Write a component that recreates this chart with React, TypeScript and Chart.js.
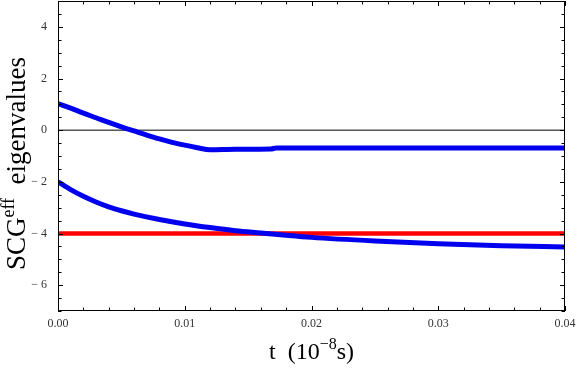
import { useEffect, useRef } from "react";
import { Chart, registerables } from "chart.js";

Chart.register(...registerables);

// time axis (units of 1e-8 s)
const tUpper = [0, 0.001, 0.002, 0.003, 0.004, 0.005, 0.006, 0.007, 0.008, 0.009, 0.010, 0.011, 0.012, 0.014, 0.0168, 0.0172, 0.020, 0.025, 0.030, 0.035, 0.040];
const upperEigen = [1.03, 0.85, 0.66, 0.48, 0.30, 0.13, -0.03, -0.19, -0.34, -0.47, -0.58, -0.68, -0.76, -0.74, -0.73, -0.69, -0.69, -0.69, -0.69, -0.69, -0.69];

const tLower = [0, 0.001, 0.002, 0.003, 0.004, 0.005, 0.006, 0.008, 0.010, 0.012, 0.014, 0.016, 0.018, 0.020, 0.025, 0.030, 0.035, 0.040];
const lowerEigen = [-2.0, -2.30, -2.56, -2.78, -2.97, -3.12, -3.25, -3.46, -3.63, -3.77, -3.89, -3.98, -4.07, -4.15, -4.29, -4.40, -4.47, -4.52];

const tFlat = [0, 0.04];
const redEigen = [-4.0, -4.0];
const zeroLine = [0, 0];

const xTickValues = [0, 0.01, 0.02, 0.03, 0.04];
const xTickLabels = ["0.00", "0.01", "0.02", "0.03", "0.04"];
const yTickValues = [-6, -4, -2, 0, 2, 4];
const yTickLabels = ["\u2212 6", "\u2212 4", "\u2212 2", "0", "2", "4"];

const X_MIN = 0, X_MAX = 0.04, Y_MIN = -7, Y_MAX = 5;
const X_MINOR_STEP = 0.002, Y_MINOR_STEP = 0.5;

const SERIF = "'Liberation Serif', 'DejaVu Serif', serif";

const pairs = (xs: number[], ys: number[]) => xs.map((x, i) => ({ x, y: ys[i] }));

const framePlugin = {
  id: "frameTicks",
  afterDraw(chart: any) {
    const { ctx, chartArea, scales } = chart;
    const { left, right, top, bottom } = chartArea;
    const xs = scales.x, ys = scales.y;
    ctx.save();
    ctx.strokeStyle = "#000";
    ctx.lineWidth = 1;
    // frame
    ctx.strokeRect(Math.round(left) + 0.5, Math.round(top) + 0.5, Math.round(right - left) - 1, Math.round(bottom - top) - 1);
    ctx.beginPath();
    const nx = Math.round((X_MAX - X_MIN) / X_MINOR_STEP);
    for (let i = 0; i <= nx; i++) {
      const v = X_MIN + i * X_MINOR_STEP;
      const major = i % 5 === 0;
      const len = major ? 5 : 3.5;
      const px = Math.round(xs.getPixelForValue(v)) + 0.5;
      ctx.moveTo(px, bottom);
      ctx.lineTo(px, bottom - len);
      ctx.moveTo(px, top);
      ctx.lineTo(px, top + len);
    }
    const ny = Math.round((Y_MAX - Y_MIN) / Y_MINOR_STEP);
    for (let i = 0; i <= ny; i++) {
      const v = Y_MIN + i * Y_MINOR_STEP;
      const major = Math.abs(v % 2) < 1e-9;
      const len = major ? 5 : 3.5;
      const py = Math.round(ys.getPixelForValue(v)) + 0.5;
      ctx.moveTo(left, py);
      ctx.lineTo(left + len, py);
      ctx.moveTo(right, py);
      ctx.lineTo(right - len, py);
    }
    ctx.stroke();

    // x axis title: t (10^-8 s)
    ctx.fillStyle = "#000";
    ctx.textBaseline = "alphabetic";
    ctx.textAlign = "left";
    const big = `24px ${SERIF}`;
    const small = `16px ${SERIF}`;
    const parts: [string, string, number][] = [
      ["t  (10", big, 0],
      ["\u22128", small, -10],
      ["s)", big, 0],
    ];
    let total = 0;
    for (const [s, f] of parts) { ctx.font = f; total += ctx.measureText(s).width; }
    let cx = (left + right) / 2 - total / 2;
    const baseY = 359;
    for (const [s, f, dy] of parts) {
      ctx.font = f;
      ctx.fillText(s, cx, baseY + dy);
      cx += ctx.measureText(s).width;
    }

    // y axis title: SCG^eff eigenvalues
    const yParts: [string, string, number][] = [
      ["SCG", `27px ${SERIF}`, 0],
      ["eff", `18px ${SERIF}`, -11],
      ["  eigenvalues", `27px ${SERIF}`, 0],
    ];
    let ytot = 0;
    for (const [s, f] of yParts) { ctx.font = f; ytot += ctx.measureText(s).width; }
    ctx.translate(25, 163.5);
    ctx.rotate(-Math.PI / 2);
    let tx = -ytot / 2;
    for (const [s, f, dy] of yParts) {
      ctx.font = f;
      ctx.fillText(s, tx, dy);
      tx += ctx.measureText(s).width;
    }
    ctx.restore();
  },
};

export default function App() {
  const ref = useRef<HTMLCanvasElement | null>(null);
  useEffect(() => {
    if (!ref.current) return;
    const chart = new Chart(ref.current, {
      type: "line",
      data: {
        datasets: [
          { label: "upper", data: pairs(tUpper, upperEigen), borderColor: "#0000ee", borderWidth: 5, pointRadius: 0, cubicInterpolationMode: "monotone", clip: 0, order: 0 } as any,
          { label: "lower", data: pairs(tLower, lowerEigen), borderColor: "#0000ee", borderWidth: 5, pointRadius: 0, cubicInterpolationMode: "monotone", clip: 0, order: 0 } as any,
          { label: "red", data: pairs(tFlat, redEigen), borderColor: "#ff0000", borderWidth: 4.5, pointRadius: 0, clip: 0, order: 1 } as any,
          { label: "zero", data: pairs(tFlat, zeroLine), borderColor: "#000000", borderWidth: 1, pointRadius: 0, clip: 0, order: 2 } as any,
        ],
      },
      options: {
        responsive: false,
        animation: false,
        events: [],
        layout: { padding: { top: 1, right: 11, left: 0, bottom: 0 } },
        plugins: { legend: { display: false }, tooltip: { enabled: false }, title: { display: false } },
        scales: {
          x: {
            type: "linear",
            min: X_MIN,
            max: X_MAX,
            grid: { display: false, drawTicks: false },
            border: { display: false },
            afterBuildTicks: (s: any) => { s.ticks = xTickValues.map((v) => ({ value: v })); },
            afterFit: (s: any) => { s.height = 57; s.paddingLeft = 0; s.paddingRight = 0; },
            ticks: {
              autoSkip: false,
              maxRotation: 0,
              minRotation: 0,
              padding: 6,
              color: "#333",
              font: { family: SERIF, size: 12 },
              callback: (_v: any, i: number) => xTickLabels[i],
            },
          },
          y: {
            type: "linear",
            min: Y_MIN,
            max: Y_MAX,
            grid: { display: false, drawTicks: false },
            border: { display: false },
            afterBuildTicks: (s: any) => { s.ticks = yTickValues.map((v) => ({ value: v })); },
            afterFit: (s: any) => { s.width = 58; s.paddingTop = 0; s.paddingBottom = 0; },
            ticks: {
              autoSkip: false,
              padding: 11,
              color: "#333",
              font: { family: SERIF, size: 12 },
              callback: (_v: any, i: number) => yTickLabels[i],
            },
          },
        },
      } as any,
      plugins: [framePlugin],
    });
    return () => chart.destroy();
  }, []);
  return (
    <div style={{ position: "absolute", left: 0, top: 0, width: 576, height: 368, background: "#fff" }}>
      <canvas ref={ref} width={576} height={368} />
    </div>
  );
}
